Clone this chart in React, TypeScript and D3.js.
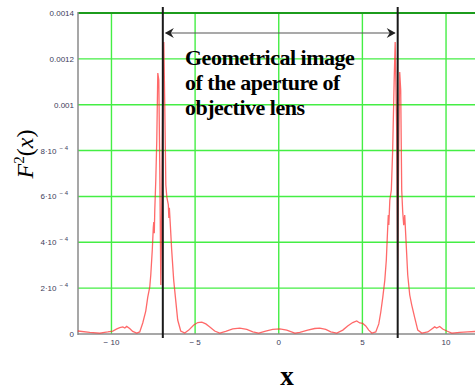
import * as d3 from "d3";

// Curve (x, F^2 in units of 1e-4)
const curveX = [
  -12.01, -11.3, -10.7, -10.22, -9.92, -9.68, -9.5, -9.32, -9.2, -9.09, -8.91, -8.73, -8.49, -8.31,
  -8.13, -7.95, -7.83, -7.71, -7.65, -7.56, -7.5, -7.47, -7.44, -7.41, -7.35, -7.29, -7.23, -7.17,
  -7.11, -7.05, -6.99, -6.93, -6.87, -6.81, -6.75, -6.69, -6.6, -6.57, -6.54, -6.49, -6.4, -6.28,
  -6.16, -6.04, -5.86, -5.62, -5.38, -5.08, -4.84, -4.6, -4.36, -4.12, -3.83, -3.53, -3.17, -2.75,
  -2.33, -1.91, -1.55, -1.2, -0.78, -0.36, 0.06, 0.48, 0.96, 1.26, 1.73, 2.15, 2.45, 2.81, 3.11,
  3.47, 3.83, 4.12, 4.42, 4.66, 4.84, 5.02, 5.2, 5.38, 5.56, 5.8, 5.98, 6.1, 6.22, 6.34, 6.43, 6.52,
  6.55, 6.58, 6.64, 6.73, 6.81, 6.9, 6.96, 7.05, 7.11, 7.17, 7.23, 7.29, 7.35, 7.41, 7.47, 7.53,
  7.59, 7.71, 7.83, 7.95, 8.13, 8.31, 8.55, 8.91, 9.15, 9.32, 9.44, 9.62, 9.8, 10.04, 10.34, 10.82,
  11.3, 11.72, 12.0,
];
const curveY = [
  0.13, 0.07, 0.04, 0.09, 0.13, 0.22, 0.28, 0.31, 0.26, 0.33, 0.24, 0.11, 0.04, 0.09,
  0.48, 1.0, 1.61, 2.05, 2.57, 3.66, 4.62, 4.88, 4.4, 5.41, 6.72, 8.46, 11.38, 11.08,
  7.15, 2.14, 5.84, 11.08, 12.73, 9.77, 6.5, 5.97, 5.63, 5.06, 5.5, 4.88, 3.66, 2.35,
  1.48, 0.61, 0.13, 0.04, 0.17, 0.39, 0.5, 0.52, 0.44, 0.31, 0.13, 0.04, 0.11, 0.22,
  0.26, 0.2, 0.09, 0.04, 0.13, 0.2, 0.22, 0.17, 0.04, 0.07, 0.17, 0.24, 0.26, 0.2, 0.09,
  0.04, 0.17, 0.35, 0.5, 0.57, 0.48, 0.46, 0.35, 0.17, 0.04, 0.09, 0.44, 0.96, 1.61, 2.35, 3.23, 4.75,
  5.19, 4.75, 5.84, 6.28, 8.02, 11.08, 12.73, 8.9, 2.79, 8.02, 11.43, 10.64, 6.28, 5.32, 4.75, 5.19,
  4.32, 2.57, 1.7, 1.26, 0.7, 0.17, 0.04, 0.09, 0.22, 0.31, 0.26, 0.33, 0.22, 0.13, 0.04, 0.07,
  0.09, 0.11, 0.11,
];

const xTicks = [-10, -5, 0, 5, 10];
const xTickLabels = ["\u2212 10", "\u2212 5", "0", "5", "10"];
const yTicks = [0, 0.0002, 0.0004, 0.0006, 0.0008, 0.001, 0.0012, 0.0014];
const yTickBase = ["0", "2\u00b710", "4\u00b710", "6\u00b710", "8\u00b710", "0.001", "0.0012", "0.0014"];
const yTickExp = ["", "\u2212 4", "\u2212 4", "\u2212 4", "\u2212 4", "", "", ""];
const apertureX = [-6.93, 7.11];
const noteLines = ["Geometrical image", "of the aperture of", "objective lens"];

const W = 475;
const H = 390;

export default function App() {
  const x = d3.scaleLinear().domain([-12, 12]).range([78, 479.5]);
  const y = d3.scaleLinear().domain([0, 0.0014]).range([334, 13]);

  const pts = curveX.map((v, i) => [v, curveY[i] * 1e-4] as [number, number]);
  const line = d3.line<[number, number]>().x((d) => x(d[0])).y((d) => y(d[1]));

  const xL = x(apertureX[0]);
  const xR = x(apertureX[1]);
  const arrowY = 33;
  const grid = "#44ee44";
  const tickColor = "#3c3c5a";

  return (
    <svg width={W} height={H} style={{ position: "absolute", left: 0, top: 0, background: "#fff" }}>
      {/* grid */}
      {xTicks.map((t) => (
        <line key={"gx" + t} x1={x(t)} x2={x(t)} y1={13} y2={334} stroke={grid} strokeWidth={1.4} />
      ))}
      {yTicks.slice(1, -1).map((t) => (
        <line key={"gy" + t} x1={78} x2={W} y1={y(t)} y2={y(t)} stroke={grid} strokeWidth={1.4} />
      ))}
      <line x1={78} x2={W} y1={y(0.0014)} y2={y(0.0014)} stroke="#1c9c1c" strokeWidth={1.8} />

      {/* axes */}
      <line x1={78} x2={78} y1={12} y2={335} stroke="#8a8a8a" strokeWidth={1.5} />
      <line x1={78} x2={W} y1={334} y2={334} stroke="#8a8a8a" strokeWidth={1.5} />

      {/* y tick labels */}
      {yTicks.map((t, i) => (
        <text key={"ty" + t} x={yTickExp[i] ? 68 : 74} y={y(t) + 3} textAnchor="end"
          fontFamily="Arial, 'Liberation Sans', sans-serif" fontSize={8} fill={tickColor}>
          {yTickBase[i]}
          {yTickExp[i] && <tspan dx={3} dy={-4} fontSize={6}>{yTickExp[i]}</tspan>}
        </text>
      ))}
      {/* x tick labels */}
      {xTicks.map((t, i) => (
        <text key={"tx" + t} x={x(t)} y={345} textAnchor="middle"
          fontFamily="Arial, 'Liberation Sans', sans-serif" fontSize={8} fill={tickColor}>
          {xTickLabels[i]}
        </text>
      ))}

      {/* curve */}
      <path d={line(pts) ?? ""} fill="none" stroke="#ff2a2a" strokeOpacity={0.7} strokeWidth={1.3} />

      {/* aperture lines */}
      {[xL, xR].map((px, i) => (
        <line key={"ap" + i} x1={px} x2={px} y1={7} y2={338} stroke="#1a1a1a" strokeWidth={2} />
      ))}

      {/* double arrow */}
      <line x1={xL + 3} x2={xR - 3} y1={arrowY} y2={arrowY} stroke="#555" strokeWidth={1.2} />
      <path d={`M${xL + 2},${arrowY} L${xL + 11},${arrowY - 5} L${xL + 8},${arrowY} L${xL + 11},${arrowY + 5} Z`} fill="#222" />
      <path d={`M${xR - 2},${arrowY} L${xR - 11},${arrowY - 5} L${xR - 8},${arrowY} L${xR - 11},${arrowY + 5} Z`} fill="#222" />

      {/* note */}
      {noteLines.map((s, i) => (
        <text key={"n" + i} x={185} y={65 + i * 25} fontFamily="'Liberation Serif', 'Times New Roman', serif"
          fontWeight="bold" fontSize={22} letterSpacing={-0.5} fill="#000">
          {s}
        </text>
      ))}

      {/* axis titles */}
      <text transform="translate(33,154) rotate(-90)" textAnchor="middle"
        fontFamily="'Liberation Serif', 'Times New Roman', serif" fontSize={24} fill="#000">
        <tspan fontStyle="italic">F</tspan>
        <tspan dy={-9} fontSize={15}>2</tspan>
        <tspan dy={9}>(</tspan>
        <tspan fontStyle="italic">x</tspan>
        <tspan>)</tspan>
      </text>
      <text x={287} y={385} textAnchor="middle" fontFamily="'Liberation Serif', 'Times New Roman', serif"
        fontWeight="bold" fontSize={27} fill="#000">
        x
      </text>
    </svg>
  );
}
